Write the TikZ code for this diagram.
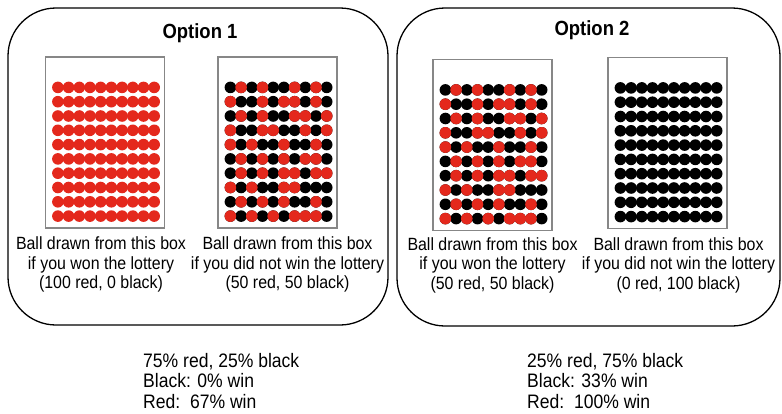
\documentclass[tikz,border=0pt]{standalone}
\usepackage{fontspec}
\setmainfont{Liberation Sans}[FakeStretch=0.9]
\usetikzlibrary{positioning}
\definecolor{ballred}{RGB}{228,40,28}
\definecolor{urngray}{RGB}{135,135,135}
\tikzset{
    option/.style={draw,line width=1.3pt,rounded corners=48pt},
    urn/.style={draw=urngray,line width=1.2pt,minimum width=119pt,minimum height=171pt,inner sep=0pt},
    caption/.style={align=center,inner sep=0pt,font=\fontsize{17.7}{19.5}\selectfont},
    heading/.style={inner sep=0pt,font=\fontsize{20.5}{23}\selectfont\bfseries},
    summary/.style={align=left,inner sep=0pt,anchor=north west,font=\fontsize{19.5}{20.5}\selectfont}
}
%% 10x10 balls of one colour in an urn
\newcommand{\fillurn}[2]{%
    \foreach \r in {0,...,9}
        \foreach \c in {0,...,9}
            \fill[#2,shift={(#1.north west)}] (13+10.7*\c,31+14.3*\r) circle (5.8pt);}
%% red balls over a black urn: row/red columns
\newcommand{\mixurn}[1]{%
    \fillurn{#1}{black}
    \foreach \r/\reds in {0/{1,3,6,8},1/{0,3,5,6,8},2/{1,3,6,7,9},3/{0,3,4,7,9},4/{0,2,5,8},
                          5/{1,3,5,7,8},6/{1,3,5,6,8,9},7/{0,2,5,6},8/{1,3,5,8},9/{0,2,4,6,7,8}}
        \foreach \c in \reds
            \fill[ballred,shift={(#1.north west)}] (13+10.7*\c,31+14.3*\r) circle (5.8pt);}
\begin{document}
\begin{tikzpicture}[x=1pt,y=-1pt]
    \useasboundingbox (0,0) rectangle (782,413);
    %% Option frames
    \draw[option] (8,8) rectangle (388,325);
    \draw[option] (397,8) rectangle (780,326);
    \node[heading] (head1) at (200,33) {Option 1};
    \node[heading] (head2) at (592,30) {Option 2};
    %% urns
    \node[urn] (urnA) at (105,142.5) {};
    \node[urn] (urnB) at (277.5,142.5) {};
    \node[urn] (urnC) at (492.5,145) {};
    \node[urn] (urnD) at (667.5,143) {};
    \fillurn{urnA}{ballred}
    \mixurn{urnB}
    \mixurn{urnC}
    \fillurn{urnD}{black}
    %% captions
    \node[caption,below=8pt of urnA,xshift=-4pt] (capA) {Ball drawn from this box\\if you won the lottery\\(100 red, 0 black)};
    \node[caption,below=8pt of urnB,xshift=10pt] (capB) {Ball drawn from this box\\if you did not win the lottery\\(50 red, 50 black)};
    \node[caption,below=6pt of urnC] (capC) {Ball drawn from this box\\if you won the lottery\\(50 red, 50 black)};
    \node[caption,below=8pt of urnD,xshift=11pt] (capD) {Ball drawn from this box\\if you did not win the lottery\\(0 red, 100 black)};
    %% chances
    \node[summary] (sum1) at (143,353) {75\% red, 25\% black\\Black: 0\% win\\Red:\ \ 67\% win};
    \node[summary] (sum2) at (527,353) {25\% red, 75\% black\\Black: 33\% win\\Red:\ \ 100\% win};
\end{tikzpicture}
\end{document}
